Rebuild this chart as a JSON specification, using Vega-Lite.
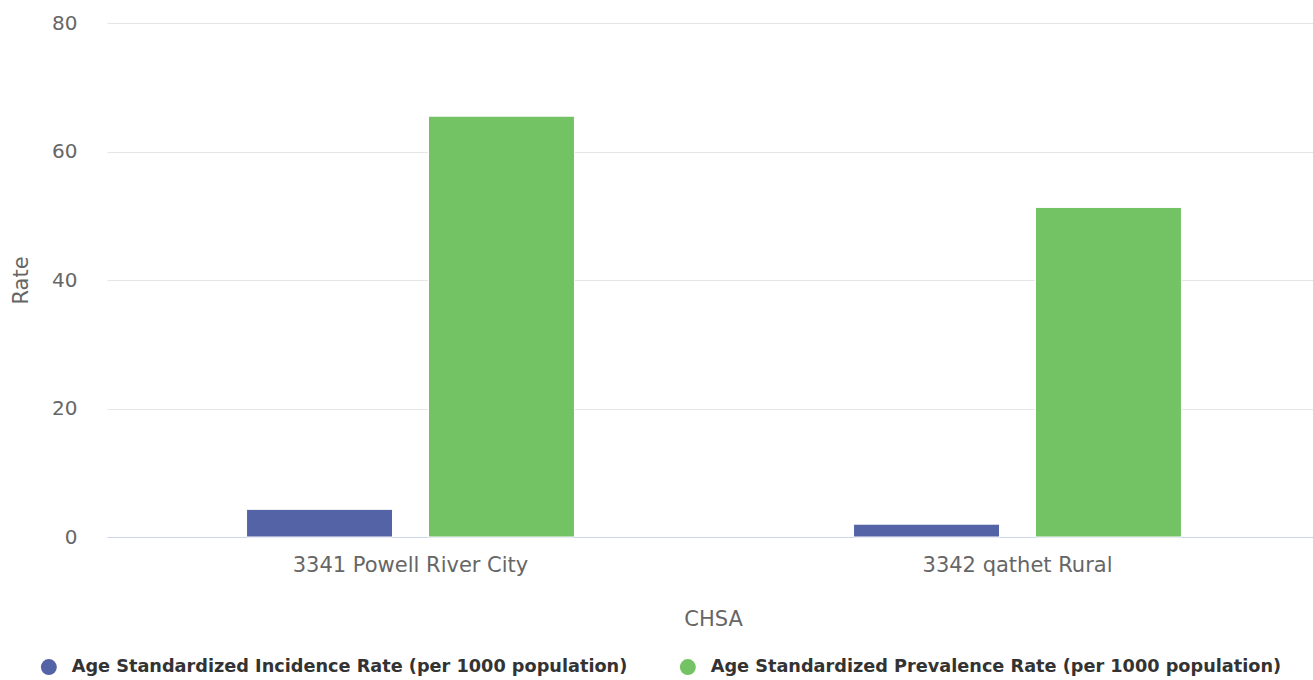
{
  "$schema": "https://vega.github.io/schema/vega-lite/v6.json",
  "autosize": "none",
  "width": 1214,
  "height": 514,
  "padding": {"left": 107, "top": 23, "right": 0, "bottom": 143},
  "background": "white",
  "config": {
    "view": {"stroke": null},
    "font": "DejaVu Sans"
  },
  "data": {
    "values": [
      {"CHSA": "3341 Powell River City", "Series": "Age Standardized Incidence Rate (per 1000 population)", "Rate": 4.3},
      {"CHSA": "3341 Powell River City", "Series": "Age Standardized Prevalence Rate (per 1000 population)", "Rate": 65.5},
      {"CHSA": "3342 qathet Rural", "Series": "Age Standardized Incidence Rate (per 1000 population)", "Rate": 2.0},
      {"CHSA": "3342 qathet Rural", "Series": "Age Standardized Prevalence Rate (per 1000 population)", "Rate": 51.3}
    ]
  },
  "mark": {"type": "bar", "stroke": "white", "strokeWidth": 1},
  "encoding": {
    "x": {
      "field": "CHSA",
      "type": "nominal",
      "sort": null,
      "scale": {"paddingInner": 0, "paddingOuter": 0},
      "axis": {
        "title": "CHSA",
        "titleFontSize": 21,
        "titleFontWeight": "normal",
        "titleColor": "#666666",
        "titlePadding": 33,
        "titleX": 606,
        "labelAngle": 0,
        "labelFontSize": 21,
        "labelColor": "#666666",
        "labelPadding": 17,
        "labelLimit": 0,
        "ticks": false,
        "domainColor": "#ccd6eb",
        "domainWidth": 1,
        "grid": false
      }
    },
    "xOffset": {
      "field": "Series",
      "type": "nominal",
      "scale": {"paddingInner": 0.198, "paddingOuter": 0.767}
    },
    "y": {
      "field": "Rate",
      "type": "quantitative",
      "scale": {"domain": [0, 80], "nice": false},
      "axis": {
        "title": "Rate",
        "titleFontSize": 21,
        "titleFontWeight": "normal",
        "titleColor": "#666666",
        "titlePadding": 20,
        "values": [0, 20, 40, 60, 80],
        "labelFontSize": 20,
        "labelColor": "#666666",
        "labelPadding": 30,
        "ticks": false,
        "domain": false,
        "gridColor": "#e6e6e6",
        "gridWidth": 1
      }
    },
    "color": {
      "field": "Series",
      "type": "nominal",
      "scale": {"range": ["#5462a6", "#73c264"]},
      "legend": {
        "title": null,
        "orient": "none",
        "direction": "horizontal",
        "legendX": -67,
        "legendY": 635,
        "symbolType": "circle",
        "symbolSize": 256,
        "symbolStrokeWidth": 0,
        "symbolOpacity": 1,
        "labelFontSize": 17.7,
        "labelFontWeight": "bold",
        "labelColor": "#333333",
        "labelLimit": 0,
        "labelOffset": 14,
        "columnPadding": 51
      }
    }
  }
}
